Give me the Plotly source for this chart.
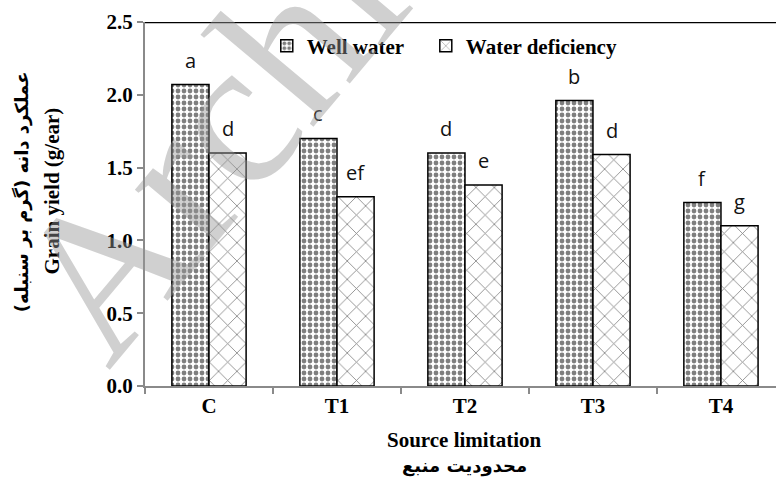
import plotly.graph_objects as go

categories = ["C", "T1", "T2", "T3", "T4"]
well_water = [2.07, 1.70, 1.60, 1.96, 1.26]
water_deficiency = [1.60, 1.30, 1.38, 1.59, 1.10]
letters_well = ["a", "c", "d", "b", "f"]
letters_def = ["d", "ef", "e", "d", "g"]
y_ticks = [0.0, 0.5, 1.0, 1.5, 2.0, 2.5]

SERIF = "Liberation Serif, Times New Roman, DejaVu Sans"
AR = "DejaVu Sans, Liberation Serif"
LETTER = "Open Sans, Liberation Sans"

fig = go.Figure()
fig.add_trace(go.Bar(
    x=categories, y=well_water, name="Well water", legend="legend",
    marker=dict(color="white", line=dict(color="black", width=1.5),
                pattern=dict(shape=".", fgcolor="black", bgcolor="white",
                             size=6, solidity=0.5)),
))
fig.add_trace(go.Bar(
    x=categories, y=water_deficiency, name="Water deficiency", legend="legend2",
    marker=dict(color="white", line=dict(color="black", width=1.5),
                pattern=dict(shape="x", fgcolor="black", bgcolor="white",
                             size=13, solidity=0.12)),
))

bar_half = 0.145
annotations = []
for i, (lw, ld) in enumerate(zip(letters_well, letters_def)):
    annotations.append(dict(x=i - bar_half, y=well_water[i], xref="x", yref="y",
                            text=lw, showarrow=False, yanchor="bottom", yshift=9,
                            font=dict(family=LETTER, size=20, color="#111")))
    annotations.append(dict(x=i + bar_half, y=water_deficiency[i], xref="x", yref="y",
                            text=ld, showarrow=False, yanchor="bottom", yshift=9,
                            font=dict(family=LETTER, size=20, color="#111")))

annotations += [
    dict(x=-0.147, y=0.535, xref="paper", yref="paper", text="Grain yield (g/ear)",
         textangle=-90, showarrow=False, xanchor="center", yanchor="middle",
         font=dict(family=SERIF, size=21, color="black", weight="bold")),
    dict(x=-0.195, y=0.535, xref="paper", yref="paper", text="عملکرد دانه (گرم بر سنبله)",
         textangle=-90, showarrow=False, xanchor="center", yanchor="middle",
         font=dict(family=AR, size=18, color="black", weight="bold")),
    dict(x=0.507, y=-0.148, xref="paper", yref="paper", text="Source limitation",
         showarrow=False, xanchor="center", yanchor="middle",
         font=dict(family=SERIF, size=21, color="black", weight="bold")),
    dict(x=0.507, y=-0.22, xref="paper", yref="paper", text="محدودیت منبع",
         showarrow=False, xanchor="center", yanchor="middle",
         font=dict(family=AR, size=18, color="black", weight="bold")),
    # watermark
    dict(x=(470 - 145) / 631, y=(386 + 170) / 364, xref="paper", yref="paper",
         text="Archive of SID", textangle=-50, showarrow=False,
         xanchor="center", yanchor="middle",
         font=dict(family="Liberation Serif", size=210, color="rgba(150,150,150,0.45)")),
]

legend_font = dict(family=SERIF, size=21, color="black", weight="bold")
fig.update_layout(
    width=776, height=484,
    margin=dict(l=145, r=0, t=22, b=98),
    paper_bgcolor="white", plot_bgcolor="white",
    barmode="group", bargap=0.42, bargroupgap=0,
    showlegend=True,
    legend=dict(orientation="h", x=0.193, y=0.99, xanchor="left", yanchor="top",
                font=legend_font, bgcolor="rgba(0,0,0,0)", itemwidth=30),
    legend2=dict(orientation="h", x=0.445, y=0.99, xanchor="left", yanchor="top",
                 font=legend_font, bgcolor="rgba(0,0,0,0)", itemwidth=30),
    annotations=annotations,
    shapes=[dict(type="line", xref="paper", yref="y", x0=0, x1=1, y0=2.5, y1=2.5,
                 line=dict(color="black", width=2.5))],
    xaxis=dict(range=[-0.5, 4.43], showline=True, linecolor="#8a8a8a", linewidth=2,
               ticks="outside", tickson="boundaries", ticklen=6, tickcolor="#8a8a8a",
               tickwidth=1.5, showgrid=False,
               tickfont=dict(family=SERIF, size=21, color="black", weight="bold")),
    yaxis=dict(range=[0, 2.5], tickvals=y_ticks, tickformat=".1f", showline=True,
               linecolor="#8a8a8a", linewidth=2, ticks="outside", ticklen=6,
               tickcolor="#8a8a8a", tickwidth=1.5, showgrid=False, zeroline=False,
               tickfont=dict(family=SERIF, size=21, color="black", weight="bold")),
)

fig.write_html("out.html", config={"displayModeBar": False},
               post_script="document.body.style.margin='0px';document.body.style.overflow='hidden';")
